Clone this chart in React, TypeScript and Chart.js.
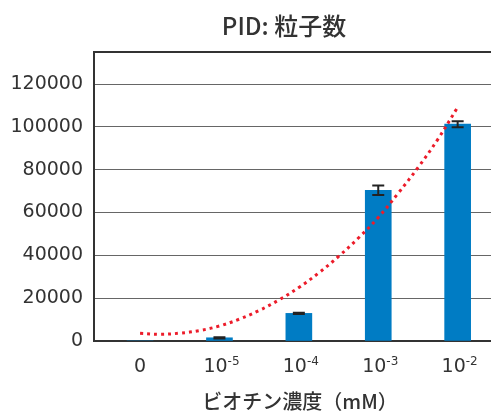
import { useEffect, useRef } from "react";
import { Chart, registerables } from "chart.js";

Chart.register(...registerables);

// Biotin concentration categories (base + exponent for the tick labels)
const concentrationBases = ["0", "10", "10", "10", "10"];
const concentrationExponents = ["", "-5", "-4", "-3", "-2"];

// Particle counts per concentration and their error bars
const particleCounts = [0, 1500, 12900, 70400, 101300];
const particleErrors = [0, 300, 300, 2200, 1400];

// Dotted trend curve, sampled along the category axis
const trendPositions = [0, 0.25, 0.5, 0.75, 1, 1.25, 1.5, 1.75, 2, 2.25, 2.5, 2.75, 3, 3.25, 3.5, 3.75, 4];
const trendCounts = [3600, 3130, 3650, 4900, 7000, 10200, 14250, 19200, 25000, 31800, 39500, 48100, 57700, 69000, 81000, 94200, 109200];

// Value axis
const yTickValues = [0, 20000, 40000, 60000, 80000, 100000, 120000];
const yAxisMax = 135000;

const chartTitle = "PID: 粒子数";
const xAxisTitle = "ビオチン濃度（mM）";

const TEXT_COLOR = "#333333";
const BAR_COLOR = "#007cc4";
const TREND_COLOR = "#ec1c2a";
const NUM_FONT = '"DejaVu Sans", sans-serif';
const CJK_FONT = '"Noto Sans CJK JP", "Noto Sans", sans-serif';

const errorBarPlugin = {
  id: "errorBars",
  afterDatasetDraw(chart: any, args: any) {
    if (args.index !== 0) return;
    const { ctx } = chart;
    const yScale = chart.scales.y;
    const meta = args.meta;
    ctx.save();
    ctx.strokeStyle = "#222222";
    ctx.lineWidth = 2;
    meta.data.forEach((bar: any, i: number) => {
      const err = particleErrors[i];
      if (!err) return;
      const v = particleCounts[i];
      const yTop = yScale.getPixelForValue(v + err);
      const yBot = yScale.getPixelForValue(v - err);
      const half = 6;
      ctx.beginPath();
      ctx.moveTo(bar.x, yTop);
      ctx.lineTo(bar.x, yBot);
      ctx.moveTo(bar.x - half, yTop);
      ctx.lineTo(bar.x + half, yTop);
      ctx.moveTo(bar.x - half, yBot);
      ctx.lineTo(bar.x + half, yBot);
      ctx.stroke();
    });
    ctx.restore();
  },
};

const textPlugin = {
  id: "chartTexts",
  afterDraw(chart: any) {
    const { ctx, chartArea } = chart;
    const xScale = chart.scales.x;
    ctx.save();
    ctx.fillStyle = TEXT_COLOR;

    // Category labels with superscript exponents
    const baseline = chartArea.bottom + 31;
    concentrationBases.forEach((base, i) => {
      const exp = concentrationExponents[i];
      const x = xScale.getPixelForValue(i);
      ctx.font = `19px ${NUM_FONT}`;
      const wBase = ctx.measureText(base).width;
      ctx.font = `12px ${NUM_FONT}`;
      const wExp = exp ? ctx.measureText(exp).width : 0;
      const start = x - (wBase + wExp) / 2 + (exp ? 2 : 0);
      ctx.textAlign = "left";
      ctx.textBaseline = "alphabetic";
      ctx.font = `19px ${NUM_FONT}`;
      ctx.fillText(base, start, baseline);
      if (exp) {
        ctx.font = `12px ${NUM_FONT}`;
        ctx.fillText(exp, start + wBase, baseline - 7);
      }
    });

    // Chart title
    ctx.textAlign = "center";
    ctx.textBaseline = "alphabetic";
    ctx.font = `500 24px ${CJK_FONT}`;
    ctx.fillText(chartTitle, 284, 35);

    // Axis title
    ctx.font = `500 20px ${CJK_FONT}`;
    ctx.textBaseline = "middle";
    ctx.fillText(xAxisTitle, 300, 401);
    ctx.restore();
  },
};

export default function App() {
  const canvasRef = useRef<HTMLCanvasElement | null>(null);

  useEffect(() => {
    const canvas = canvasRef.current;
    if (!canvas) return;
    const chart = new Chart(canvas, {
      type: "bar",
      data: {
        datasets: [
          {
            type: "bar",
            data: particleCounts.map((v, i) => ({ x: i, y: v })),
            backgroundColor: BAR_COLOR,
            borderWidth: 0,
            barThickness: 26,
            order: 1,
          } as any,
          {
            type: "line",
            data: trendPositions.map((p, i) => ({ x: p, y: trendCounts[i] })),
            borderColor: TREND_COLOR,
            borderWidth: 3,
            borderDash: [3, 4],
            borderCapStyle: "butt",
            pointRadius: 0,
            tension: 0.4,
            fill: false,
            order: 0,
          } as any,
        ],
      },
      options: {
        responsive: false,
        animation: false,
        devicePixelRatio: 1,
        layout: { padding: { top: 52, right: 0, bottom: 0, left: 0 } },
        plugins: {
          legend: { display: false },
          title: { display: false },
          tooltip: { enabled: false },
        },
        scales: {
          x: {
            type: "linear",
            offset: false,
            min: -0.58,
            max: 4.42,
            ticks: { display: false },
            grid: { display: false, drawTicks: false },
            border: { display: true, color: "#333333", width: 2 },
            afterFit: (scale: any) => {
              scale.height = 70;
            },
          },
          y: {
            type: "linear",
            min: 0,
            max: yAxisMax,
            afterBuildTicks: (scale: any) => {
              scale.ticks = [...yTickValues, yAxisMax].map((v) => ({ value: v }));
            },
            ticks: {
              padding: 11,
              color: TEXT_COLOR,
              font: { family: NUM_FONT, size: 19 },
              callback: (v: any) => (yTickValues.includes(Number(v)) ? String(v) : ""),
            },
            grid: {
              drawTicks: false,
              color: (c: any) => (c.tick && c.tick.value === yAxisMax ? "#333333" : "#666666"),
              lineWidth: (c: any) => (c.tick && c.tick.value === yAxisMax ? 2 : 1),
            },
            border: { display: true, color: "#333333", width: 2 },
            afterFit: (scale: any) => {
              scale.width = 94;
            },
          },
        },
      } as any,
      plugins: [errorBarPlugin, textPlugin],
    });
    return () => chart.destroy();
  }, []);

  return (
    <div style={{ position: "fixed", left: 0, top: 0, width: 491, height: 411, overflow: "hidden", background: "#ffffff" }}>
      <canvas ref={canvasRef} width={491} height={411} style={{ display: "block", width: 491, height: 411 }} />
    </div>
  );
}
